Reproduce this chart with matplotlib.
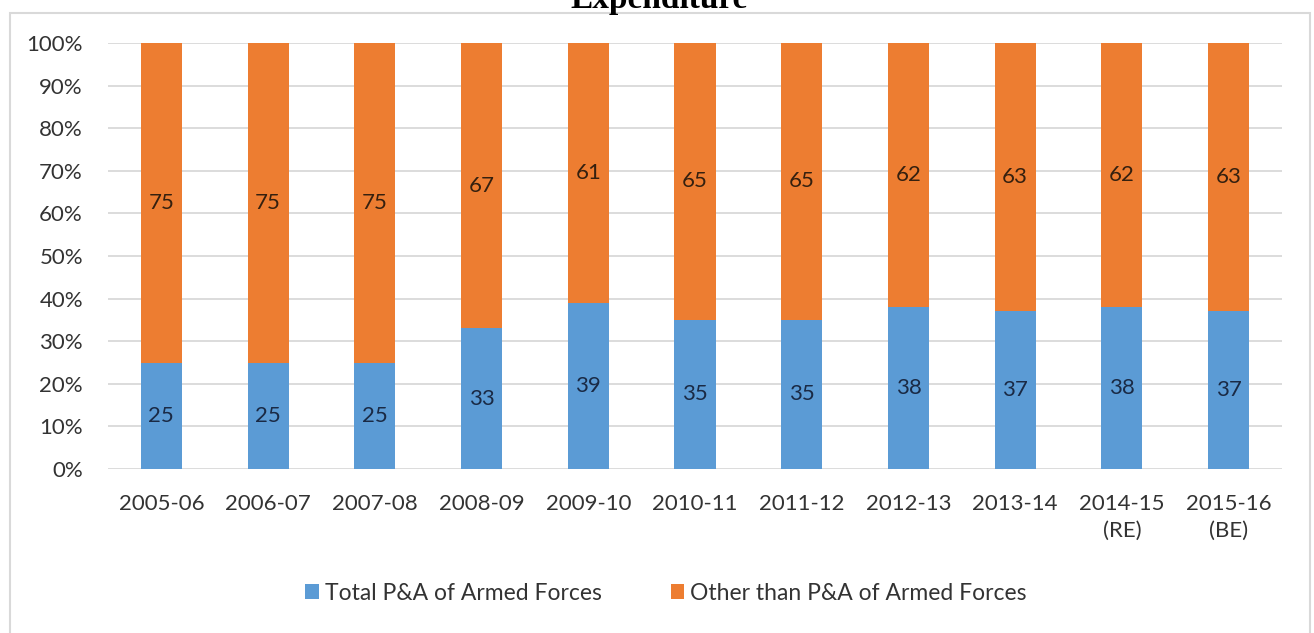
import matplotlib
matplotlib.use("Agg")
from matplotlib import pyplot as plt
from matplotlib.patches import Rectangle
import numpy as np

years = ["2005-06", "2006-07", "2007-08", "2008-09", "2009-10", "2010-11",
         "2011-12", "2012-13", "2013-14", "2014-15\n(RE)", "2015-16\n(BE)"]
pa_armed = [25, 25, 25, 33, 39, 35, 35, 38, 37, 38, 37]
other_than_pa = [75, 75, 75, 67, 61, 65, 65, 62, 63, 62, 63]

BLUE = "#5b9bd5"
ORANGE = "#ed7d31"

plt.rcParams["font.family"] = ["Lato", "DejaVu Sans"]

fig = plt.figure(figsize=(13.14, 6.33), dpi=100)
W, H = 1314, 633
ax = fig.add_axes([108 / W, 1 - 469 / H, (1282 - 108) / W, (469 - 43) / H])

x = np.arange(len(years))
width = 0.385
b1 = ax.bar(x, pa_armed, width, color=BLUE, label="Total P&A of Armed Forces", zorder=3)
b2 = ax.bar(x, other_than_pa, width, bottom=pa_armed, color=ORANGE,
            label="Other than P&A of Armed Forces", zorder=3)

ax.bar_label(b1, labels=[str(v) for v in pa_armed], label_type="center",
             fontsize=16, color="#1a2a45")
ax.bar_label(b2, labels=[str(v) for v in other_than_pa], label_type="center",
             fontsize=16, color="#35200f")

ax.set_xlim(-0.5, len(years) - 0.5)
ax.set_ylim(0, 100)
ax.set_yticks(np.arange(0, 101, 10))
ax.set_yticklabels([f"{v}%" for v in range(0, 101, 10)])
ax.set_xticks(x)
ax.set_xticklabels(years, linespacing=1.45)
ax.tick_params(axis="y", length=0, pad=18, labelsize=16, labelcolor="#333333")
ax.tick_params(axis="x", length=0, pad=18, labelsize=16, labelcolor="#333333")
ax.grid(axis="y", color="#d9d9d9", linewidth=1.3, zorder=0)
for s in ax.spines.values():
    s.set_visible(False)

fig.legend(handles=[b1, b2], loc="center", bbox_to_anchor=(666 / W, 1 - 593 / H),
           ncol=2, frameon=False, fontsize=16.5, handlelength=0.6, handleheight=0.6,
           handletextpad=0.25, columnspacing=3.0, labelcolor="#333333")

# outer chart border (cropped screenshot)
fig.add_artist(Rectangle((10 / W, -0.1), 1300 / W, 1.1 - 13 / H, transform=fig.transFigure,
                         fill=False, edgecolor="#d9d9d9", linewidth=1.5, clip_on=False))

# title cut off at the top of the picture
fig.text(659 / W, 1 - 8 / H, "Expenditure", ha="center", va="baseline",
         family="Liberation Serif", fontweight="bold", fontsize=24, color="black")

fig.savefig("out.png", dpi=100, facecolor="white")
